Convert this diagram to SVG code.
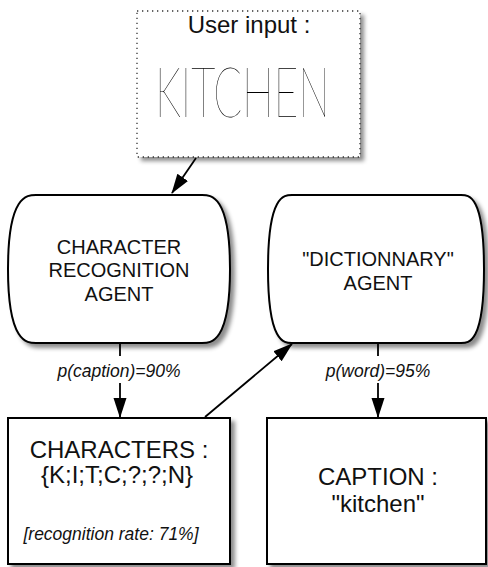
<svg xmlns="http://www.w3.org/2000/svg" width="488" height="567" viewBox="0 0 488 567">
<style>
.t{font-family:"Liberation Sans",Arial,sans-serif;fill:#111;text-anchor:middle}
.n{font-size:20px}
.b{font-size:24px}
.i{font-size:17.5px;font-style:italic}
.shape{fill:#fff;stroke:#000;stroke-width:2}
.c{stroke:#000;stroke-width:1.8;fill:none}
</style>
<defs>
<filter id="sh" x="-10%" y="-10%" width="130%" height="130%">
<feDropShadow dx="4" dy="4" stdDeviation="2" flood-color="#000" flood-opacity="0.45"/>
</filter>
<marker id="ah" markerUnits="userSpaceOnUse" markerWidth="20" markerHeight="14" refX="19" refY="6.5" orient="auto">
<path d="M0,0 L20,6.5 L0,13 z" fill="#000"/>
</marker>
</defs>
<g id="user-input">
<rect x="137" y="11" width="223" height="146" fill="#fff" filter="url(#sh)"/>
<rect x="137" y="11" width="223" height="146" fill="none" stroke="#333" stroke-width="1.3" stroke-dasharray="1.3 3.7"/>
<text class="t" x="249" y="33" font-size="24">User input :</text>
<text x="155" y="117" font-family="Lato,Inter,'DejaVu Sans',sans-serif" font-weight="100" font-size="70" textLength="175" lengthAdjust="spacingAndGlyphs" fill="#000">KITCHEN</text>
</g>
<g id="char-agent">
<path class="shape" filter="url(#sh)" d="M36,195 H202 C211,195 230,195 230,269 C230,343 211,343 202,343 H36 C27,343 8,343 8,269 C8,195 27,195 36,195 Z"/>
<text class="t n" x="119" y="254">CHARACTER</text>
<text class="t n" x="119" y="277">RECOGNITION</text>
<text class="t n" x="119" y="301">AGENT</text>
</g>
<g id="dict-agent">
<path class="shape" filter="url(#sh)" d="M292,195 H461 C469,195 484,195 484,269 C484,343 469,343 461,343 H292 C284,343 268,343 268,269 C268,195 284,195 292,195 Z"/>
<text class="t n" x="378" y="266">"DICTIONNARY"</text>
<text class="t n" x="378" y="290">AGENT</text>
</g>
<g id="characters">
<rect class="shape" filter="url(#sh)" x="8" y="418" width="222" height="146"/>
<text class="t b" x="119" y="458">CHARACTERS :</text>
<text class="t b" x="117" y="483">{K;I;T;C;?;?;N}</text>
<text class="t i" x="111" y="540">[recognition rate: 71%]</text>
</g>
<g id="caption">
<rect class="shape" filter="url(#sh)" x="267" y="418" width="219" height="146"/>
<text class="t b" x="378" y="485">CAPTION :</text>
<text class="t b" x="378" y="512">"kitchen"</text>
</g>
<g id="connectors">
<line class="c" x1="196" y1="158" x2="172" y2="193" marker-end="url(#ah)"/>
<line class="c" x1="120" y1="343" x2="120" y2="356"/>
<text class="t i" x="119" y="377">p(caption)=90%</text>
<line class="c" x1="120" y1="383" x2="120" y2="417" marker-end="url(#ah)"/>
<line class="c" x1="378" y1="343" x2="378" y2="356"/>
<text class="t i" x="378" y="377">p(word)=95%</text>
<line class="c" x1="378" y1="383" x2="378" y2="417" marker-end="url(#ah)"/>
<line class="c" x1="205" y1="417" x2="292" y2="344" marker-end="url(#ah)"/>
</g>
</svg>
